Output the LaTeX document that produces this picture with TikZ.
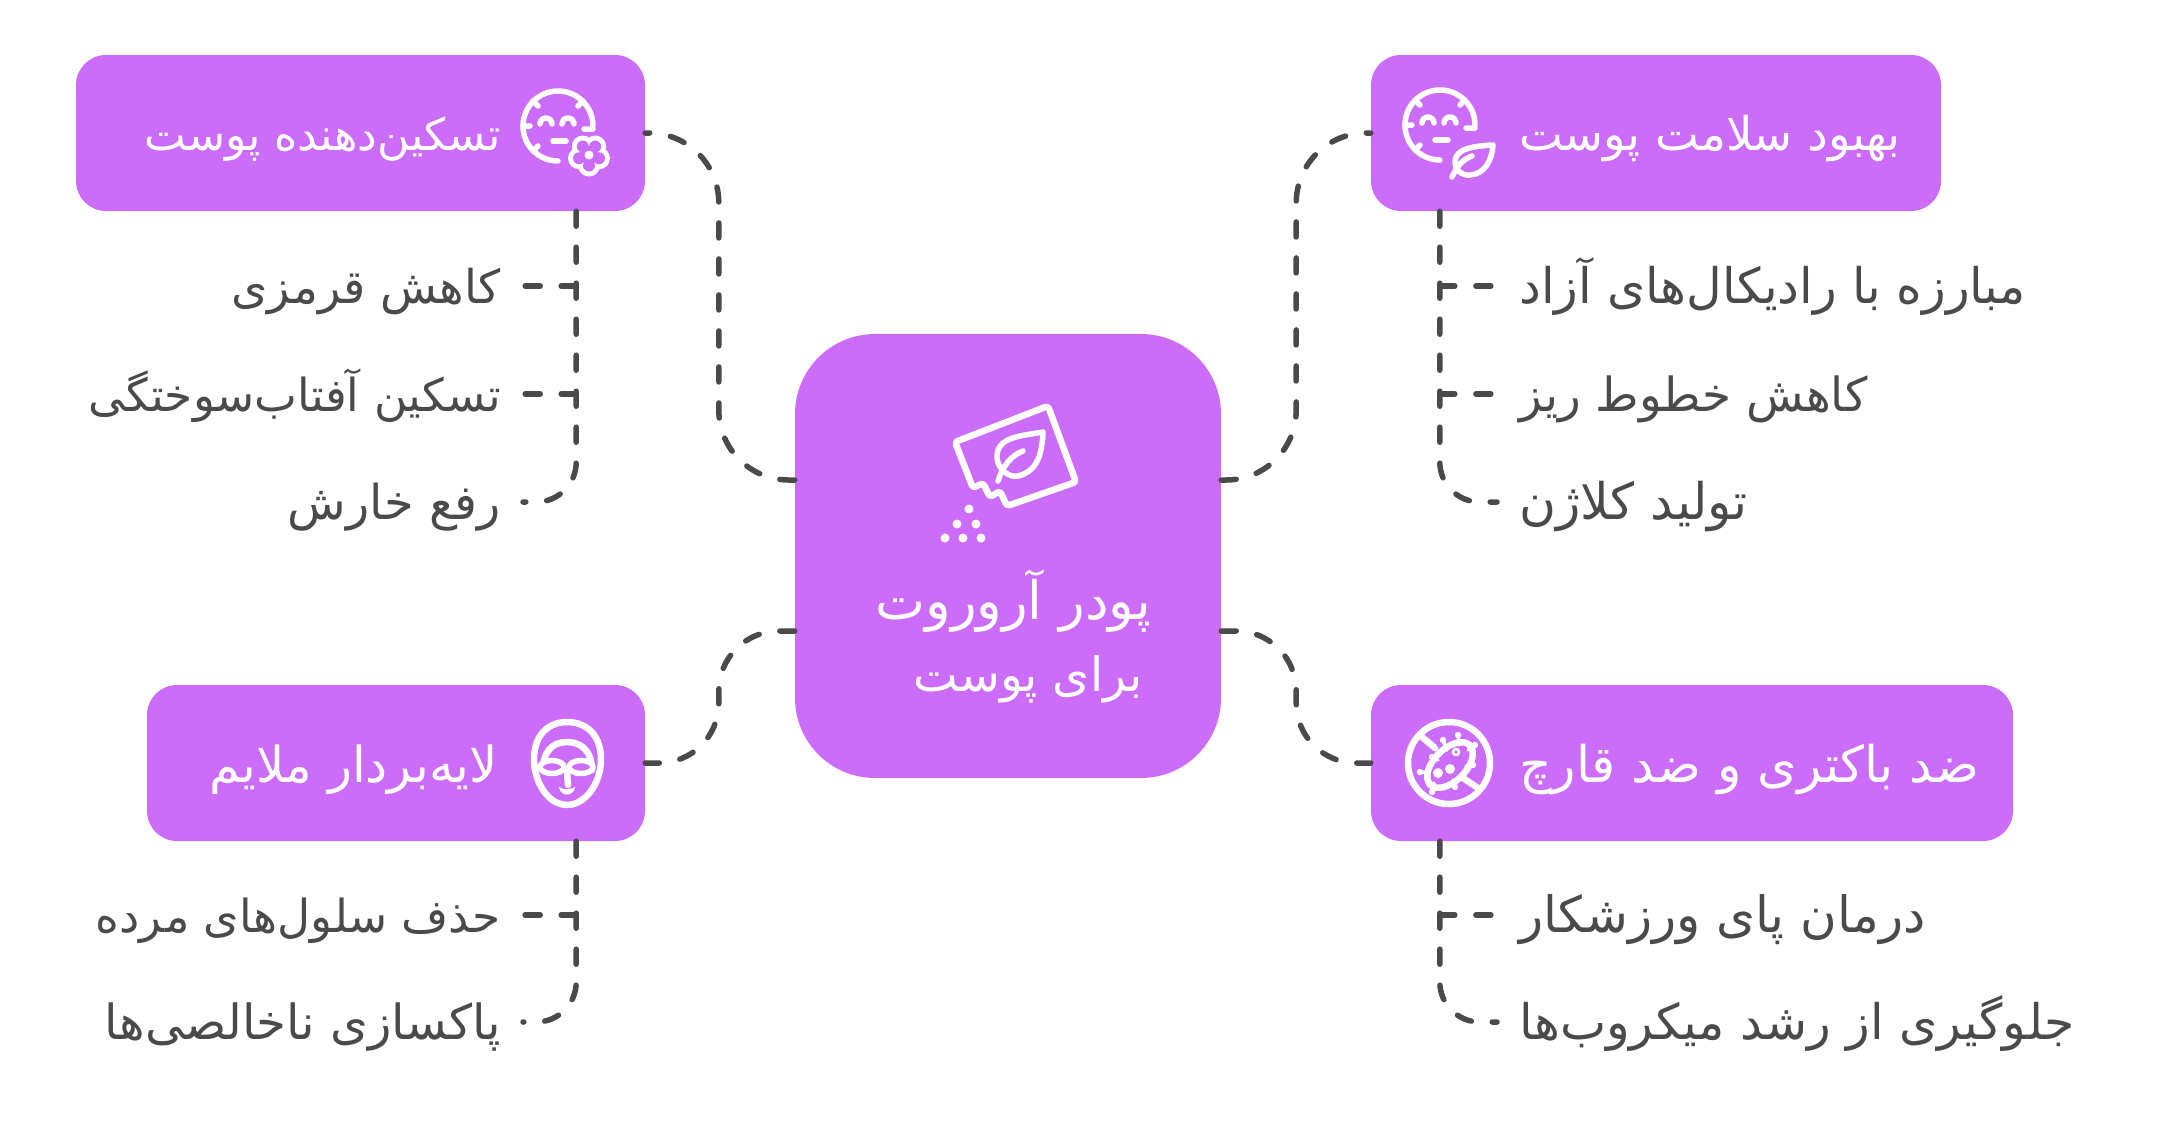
\documentclass[tikz,border=0pt]{standalone}
\usepackage{fontspec}
\usepackage{tikz}
\TeXXeTstate=1
\newfontfamily\fafont[Script=Arabic]{DejaVu Sans}
\newcommand{\fa}[1]{{\fafont\beginR #1\endR}}
\newcommand{\fs}[1]{\fontsize{#1}{50}\selectfont}
\definecolor{boxpurple}{HTML}{CB6CFB}
\definecolor{linkgray}{HTML}{4A4A4A}

\begin{document}
\begin{tikzpicture}[x=1pt,y=-1pt,
    headbox/.style = {fill=boxpurple, rounded corners=30pt, minimum height=156pt, inner sep=0pt},
    headtext/.style = {text=white, inner sep=0pt, text height=40pt, text depth=6pt},
    leaftext/.style = {text=linkgray, inner sep=0pt, text height=40pt, text depth=6pt},
    link/.style = {draw=linkgray, line width=5.5pt, line cap=round, dash pattern=on 15pt off 21pt},
    icon/.style = {draw=white, line width=5.5pt, line cap=round, line join=round},
    facepic/.pic = {
        \draw[icon] (35,0) arc (0:-270:35);
        \draw[icon] (25,-25) -- (20,-20) (-25,-25) -- (-20,-20) (-35,0) -- (-28,0) (-25,25) -- (-20,20) (35,3) -- (26,3);
        \draw[icon] (-18,-2) arc (180:360:6) (4,-2) arc (180:360:6);
        \draw[icon] (-5,15) -- (8,15);
    }]
    \useasboundingbox (0,0) rectangle (2160,1133);

    \node[headbox, rounded corners=80pt, minimum width=426pt, minimum height=444pt] (mid) at (1008,556) {};
    \node[headbox, minimum width=569pt] (boxtl) at (360.5,133) {};
    \node[headbox, minimum width=498pt] (boxbl) at (396,763) {};
    \node[headbox, minimum width=570pt] (boxtr) at (1656,133) {};
    \node[headbox, minimum width=642pt] (boxbr) at (1692,763) {};

    \node[headtext, font=\fs{53}, anchor=east] (midone) at (1151,602) {\fa{پودر آروروت}};
    \node[headtext, font=\fs{47.5}, anchor=east] (midtwo) at (1143,674) {\fa{برای پوست}};

    \node[headtext, font=\fs{44.3}, anchor=east] (titletl) at (501,133) {\fa{تسکین‌دهنده پوست}};
    \node[headtext, font=\fs{49.6}, anchor=east] (titlebl) at (498,765) {\fa{لایه‌بردار ملایم}};
    \node[headtext, font=\fs{46.5}, anchor=west] (titletr) at (1519,133) {\fa{بهبود سلامت پوست}};
    \node[headtext, font=\fs{50.5}, anchor=west] (titlebr) at (1519,765) {\fa{ضد باکتری و ضد قارچ}};

    \node[leaftext, font=\fs{46.5}, anchor=east] (tlone) at (501,286) {\fa{کاهش قرمزی}};
    \node[leaftext, font=\fs{45.5}, anchor=east] (tltwo) at (501,394) {\fa{تسکین آفتاب‌سوختگی}};
    \node[leaftext, font=\fs{48}, anchor=east] (tlthree) at (501,502) {\fa{رفع خارش}};
    \node[leaftext, font=\fs{45.5}, anchor=east] (blone) at (501,915) {\fa{حذف سلول‌های مرده}};
    \node[leaftext, font=\fs{48.4}, anchor=east] (bltwo) at (501,1022) {\fa{پاکسازی ناخالصی‌ها}};
    \node[leaftext, font=\fs{49}, anchor=west] (trone) at (1519,286) {\fa{مبارزه با رادیکال‌های آزاد}};
    \node[leaftext, font=\fs{47}, anchor=west] (trtwo) at (1519,394) {\fa{کاهش خطوط ریز}};
    \node[leaftext, font=\fs{50.4}, anchor=west] (trthree) at (1519,502) {\fa{تولید کلاژن}};
    \node[leaftext, font=\fs{50}, anchor=west] (brone) at (1519,915) {\fa{درمان پای ورزشکار}};
    \node[leaftext, font=\fs{49}, anchor=west] (brtwo) at (1519,1022) {\fa{جلوگیری از رشد میکروب‌ها}};

    % big links
    \draw[link, rounded corners=70pt] ([yshift=76pt]mid.east) -- ++(75,0) |- (boxtr.west);
    \draw[link, rounded corners=60pt] ([yshift=-75pt]mid.east) -- ++(75,0) |- (boxbr.west);
    \draw[link, rounded corners=70pt] ([yshift=76pt]mid.west) -- ++(-76,0) |- (boxtl.east);
    \draw[link, rounded corners=60pt] ([yshift=-75pt]mid.west) -- ++(-76,0) |- (boxbl.east);

    % branches
    \coordinate (roottl) at ([xshift=-69pt]boxtl.south east);
    \coordinate (rootbl) at ([xshift=-69pt]boxbl.south east);
    \coordinate (roottr) at ([xshift=69pt]boxtr.south west);
    \coordinate (rootbr) at ([xshift=69pt]boxbr.south west);

    \draw[link, rounded corners=40pt] (roottl) |- ([xshift=22pt]tlthree.east);
    \draw[link] (roottl |- tlone.east) -- ([xshift=22pt]tlone.east);
    \draw[link] (roottl |- tltwo.east) -- ([xshift=22pt]tltwo.east);
    \draw[link, rounded corners=40pt] (rootbl) |- ([xshift=22pt]bltwo.east);
    \draw[link] (rootbl |- blone.east) -- ([xshift=22pt]blone.east);
    \draw[link, rounded corners=40pt] (roottr) |- ([xshift=-22pt]trthree.west);
    \draw[link] (roottr |- trone.west) -- ([xshift=-22pt]trone.west);
    \draw[link] (roottr |- trtwo.west) -- ([xshift=-22pt]trtwo.west);
    \draw[link, rounded corners=40pt] (rootbr) |- ([xshift=-22pt]brtwo.west);
    \draw[link] (rootbr |- brone.west) -- ([xshift=-22pt]brone.west);

    % packet
    \draw[icon, line width=6.5pt, rounded corners=3pt] (955,442) -- (1048,406) -- (1076,482) -- (1007,506) -- (1000,491) -- (990,497) -- (983,483) -- (973,488) -- cycle;
    \draw[icon] (1043,432) .. controls (1020,436) and (996,437) .. (997,458) .. controls (998,470) and (1010,478) .. (1018,476) .. controls (1034,472) and (1042,460) .. (1043,432);
    \draw[icon] (998,481) .. controls (1003,465) and (1012,455) .. (1023,451);
    \fill[white] (969,509) circle (4.5) (957,524) circle (4.5) (976,524) circle (4.5) (945,538) circle (4.5) (963,538) circle (4.5) (981,538) circle (4.5);

    % faces
    \pic at (558,126) {facepic};
    \pic at (1440,125) {facepic};

    % flower
    \fill[white] (589,155) ++(90:10.5) circle (11) ++(270:10.5) ++(162:10.5) circle (11) ++(342:10.5) ++(234:10.5) circle (11) ++(54:10.5) ++(306:10.5) circle (11) ++(126:10.5) ++(18:10.5) circle (11);
    \fill[boxpurple] (589,155) ++(90:10.5) circle (6) ++(270:10.5) ++(162:10.5) circle (6) ++(342:10.5) ++(234:10.5) circle (6) ++(54:10.5) ++(306:10.5) circle (6) ++(126:10.5) ++(18:10.5) circle (6);
    \fill[boxpurple] (589,155) circle (9);
    \fill[white] (589,155) circle (4.5);

    % leaf
    \draw[icon] (1493,145) .. controls (1475,146) and (1455,148) .. (1455,162) .. controls (1455,172) and (1465,176) .. (1470,175) .. controls (1485,174) and (1492,160) .. (1493,145);
    \draw[icon] (1452,177) .. controls (1458,165) and (1462,160) .. (1472,156);

    % mask
    \draw[icon, line width=6.5pt] (535,770) .. controls (530,740) and (545,722) .. (567,722) .. controls (590,722) and (605,740) .. (600,770) .. controls (596,790) and (582,805) .. (567,805) .. controls (552,805) and (539,790) .. (535,770);
    \draw[icon, line width=6.5pt] (543,770) .. controls (543,752) and (552,742) .. (567,742) .. controls (582,742) and (592,752) .. (592,770);
    \draw[icon, line width=5.5pt, fill=boxpurple] (552,767) ellipse (12 and 6.5);
    \draw[icon, line width=5.5pt, fill=boxpurple] (581,767) ellipse (12 and 6.5);
    \draw[icon, line width=6.5pt] (567,772) -- (568,785);
    \fill[white] (559,787) .. controls (563,790) and (571,790) .. (575,787) .. controls (574,797) and (560,797) .. (559,787);

    % germ
    \draw[icon, line width=6.5pt] (1449,763) circle (41);
    \draw[icon, line width=6.5pt] (1422,737) -- (1435,748) (1463,778) -- (1478,788);
    \draw[icon, line width=6.5pt, fill=boxpurple, rotate around={45:(1450,765)}] (1450,765) ellipse (28 and 16);
    \draw[icon, line width=3.5pt] (1443,740) -- (1447,750) (1458,735) -- (1459,745) (1475,745) -- (1468,750) (1473,765) -- (1466,766) (1455,787) -- (1453,780) (1432,792) -- (1434,783) (1420,772) -- (1428,772) (1432,757) -- (1438,760);
    \fill[white] (1443,740) circle (3.2) (1458,735) circle (3.2) (1475,745) circle (3.2) (1473,765) circle (3.2) (1455,787) circle (3.2) (1432,792) circle (3.2) (1420,772) circle (3.2) (1432,757) circle (3.2);
    \draw[white, line width=2.5pt] (1456,752) circle (3);
    \fill[white] (1438,773) circle (5) (1450,769) circle (5);
\end{tikzpicture}
\end{document}
